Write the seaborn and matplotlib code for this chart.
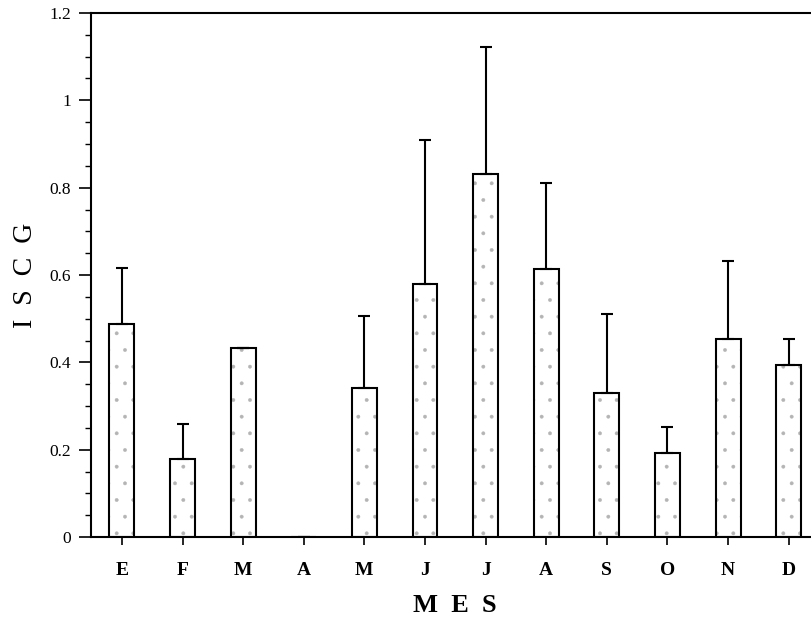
import matplotlib
matplotlib.use("Agg")
import matplotlib.pyplot as plt
import seaborn as sns
import pandas as pd
import numpy as np
from matplotlib.ticker import MultipleLocator

# Monthly ISCG means with the upper standard deviation drawn above each bar
months = ["E", "F", "M", "A", "M", "J", "J", "A", "S", "O", "N", "D"]
iscg_mean = [0.488, 0.179, 0.432, 0.0, 0.341, 0.580, 0.832, 0.614, 0.330, 0.192, 0.454, 0.394]
iscg_sd = [0.128, 0.080, 0.0, 0.0, 0.165, 0.329, 0.290, 0.197, 0.181, 0.060, 0.178, 0.060]
y_ticks = [0, 0.2, 0.4, 0.6, 0.8, 1.0, 1.2]
y_tick_labels = ["0", "0.2", "0.4", "0.6", "0.8", "1", "1.2"]

sns.set_style("ticks")
plt.rcParams["font.family"] = ["Liberation Serif", "DejaVu Serif"]
plt.rcParams["hatch.linewidth"] = 0.3
for key in ["text.color", "axes.labelcolor", "xtick.color", "ytick.color", "axes.edgecolor"]:
    plt.rcParams[key] = "black"

df = pd.DataFrame({"pos": np.arange(len(months)), "mean": iscg_mean})

fig = plt.figure(figsize=(8.12, 6.27), dpi=100)
ax = fig.add_axes([91 / 812, 1 - 537 / 627, (819 - 91) / 812, (537 - 13) / 627])

# stippled fill
sns.barplot(data=df, x="pos", y="mean", ax=ax, color="white", width=0.41,
            edgecolor="#b4b4b4", linewidth=0, hatch=".", errorbar=None,
            saturation=1)
# black outlines
sns.barplot(data=df, x="pos", y="mean", ax=ax, fill=False, width=0.41,
            edgecolor="black", linewidth=1.5, errorbar=None)

# one-sided error bars
ax.errorbar(df["pos"], df["mean"], yerr=[np.zeros(len(months)), iscg_sd],
            fmt="none", ecolor="black", elinewidth=1.5, capsize=4.3,
            capthick=1.5)

ax.set_xlim(-0.51, 11.5)
ax.set_ylim(0, 1.2)
ax.set_yticks(y_ticks)
ax.set_yticklabels(y_tick_labels)
ax.yaxis.set_minor_locator(MultipleLocator(0.05))
ax.set_xticks(range(len(months)))
ax.set_xticklabels(months)

ax.tick_params(axis="y", which="major", direction="out", length=8.5, width=1.2,
               labelsize=12.5, pad=6)
ax.tick_params(axis="y", which="minor", direction="out", length=4, width=1.0)
ax.tick_params(axis="x", which="major", direction="out", length=6, width=1.2,
               labelsize=14, pad=12)
for lab in ax.get_xticklabels():
    lab.set_fontweight("bold")

for side in ["left", "bottom", "top", "right"]:
    ax.spines[side].set_linewidth(1.5)
    ax.spines[side].set_visible(True)

ax.set_xlabel("M  E  S", fontsize=19, fontweight="bold", labelpad=11)
ax.set_ylabel("I  S  C  G", fontsize=20, labelpad=8)

fig.savefig("out.png", dpi=100)
